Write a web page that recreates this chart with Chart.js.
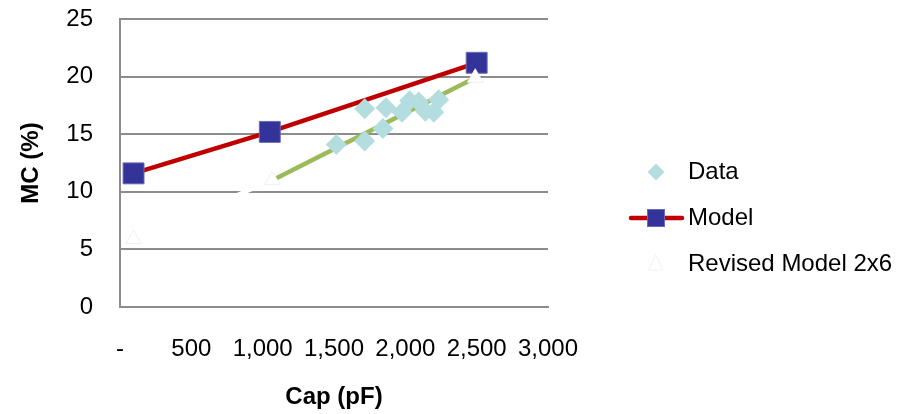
<!DOCTYPE html>
<html>
<head>
<meta charset="utf-8">
<script src="https://cdn.jsdelivr.net/npm/chart.js@4/dist/chart.umd.min.js"></script>
<style>
  html, body { margin: 0; padding: 0; background: #fff; }
  #wrap { width: 921px; height: 414px; position: relative; }
</style>
</head>
<body>
<div id="wrap"><canvas id="myChart"></canvas></div>
<script>
// values
var dataCap = [1516, 1715, 1715, 1864, 1843, 1977, 2030, 2093, 2140, 2199, 2234];
var dataMC  = [14.1, 14.4, 17.2, 17.3, 15.5, 16.9, 17.9, 17.8, 17.0, 16.9, 18.0];

var modelCap = [95, 1050, 2500];
var modelMC  = [11.6, 15.2, 21.2];

var revisedCap = [95, 1068, 2490];
var revisedMC  = [5.9, 11.0, 19.9];

var seriesNames = ['Data', 'Model', 'Revised Model 2x6'];
var xTicks = [0, 500, 1000, 1500, 2000, 2500, 3000];
var yTicks = [0, 5, 10, 15, 20, 25];

function pts(xs, ys) {
    return xs.map(function (x, i) { return { x: x, y: ys[i] }; });
}

var FONT = '"Liberation Sans", Arial, sans-serif';
Chart.defaults.font.family = FONT;
Chart.defaults.font.size = 24;
Chart.defaults.color = '#000';

var GRID = '#8c8c8c';
var DIAMOND = '#b4dde0';
var RED = '#c00000';
var NAVY = '#333399';
var GREEN = '#9bbb59';

// legend on the right, drawn by hand so it can show line + marker
var sideLegend = {
    id: 'sideLegend',
    afterDraw: function (chart) {
        var ctx = chart.ctx;
        var mx = 656, tx = 688;
        var rows = [172, 218, 264];
        ctx.save();
        // Data
        ctx.fillStyle = DIAMOND;
        ctx.beginPath();
        ctx.moveTo(mx, rows[0] - 8.5);
        ctx.lineTo(mx + 8.5, rows[0]);
        ctx.lineTo(mx, rows[0] + 8.5);
        ctx.lineTo(mx - 8.5, rows[0]);
        ctx.closePath();
        ctx.fill();
        // Model
        ctx.strokeStyle = RED;
        ctx.lineWidth = 4.5;
        ctx.lineCap = 'round';
        ctx.beginPath();
        ctx.moveTo(631, rows[1]);
        ctx.lineTo(682, rows[1]);
        ctx.stroke();
        ctx.fillStyle = NAVY;
        ctx.fillRect(mx - 8.5, rows[1] - 8.5, 17, 17);
        ctx.strokeStyle = '#6a6ab8';
        ctx.lineWidth = 1;
        ctx.strokeRect(mx - 8.5, rows[1] - 8.5, 17, 17);
        // Revised
        ctx.fillStyle = '#fff';
        ctx.strokeStyle = '#f2f2f2';
        ctx.beginPath();
        ctx.moveTo(mx, rows[2] - 9);
        ctx.lineTo(mx + 7, rows[2] + 6);
        ctx.lineTo(mx - 7, rows[2] + 6);
        ctx.closePath();
        ctx.fill();
        ctx.stroke();
        // labels
        ctx.fillStyle = '#000';
        ctx.font = '24px ' + FONT;
        ctx.textAlign = 'left';
        ctx.textBaseline = 'middle';
        seriesNames.forEach(function (name, i) {
            ctx.fillText(name, tx, rows[i]);
        });
        ctx.restore();
    }
};

var ctx = document.getElementById('myChart').getContext('2d');
var chart = new Chart(ctx, {
    type: 'scatter',
    data: {
        datasets: [{
            label: seriesNames[0],
            data: pts(dataCap, dataMC),
            showLine: false,
            pointStyle: 'rectRot',
            pointRadius: 10.5,
            backgroundColor: DIAMOND,
            borderColor: DIAMOND,
            borderWidth: 0,
            order: 0
        }, {
            label: seriesNames[2],
            data: pts(revisedCap, revisedMC),
            showLine: true,
            borderColor: '#fff',
            borderWidth: 4.5,
            segment: {
                borderColor: function (c) { return c.p0DataIndex === 0 ? '#fff' : GREEN; }
            },
            pointStyle: 'triangle',
            pointRadius: 9,
            backgroundColor: '#fff',
            pointBorderColor: '#f0f0f0',
            pointBorderWidth: 1,
            order: 1
        }, {
            label: seriesNames[1],
            data: pts(modelCap, modelMC),
            showLine: true,
            borderColor: RED,
            borderWidth: 4.5,
            pointStyle: 'rect',
            pointRadius: 14.8,
            pointBackgroundColor: NAVY,
            pointBorderColor: '#6a6ab8',
            pointBorderWidth: 1,
            order: 2
        }]
    },
    options: {
        responsive: true,
        maintainAspectRatio: false,
        animation: false,
        layout: { padding: { top: 19, right: 373, left: 0, bottom: 0 } },
        plugins: {
            legend: { display: false },
            tooltip: { enabled: false }
        },
        scales: {
            x: {
                type: 'linear',
                min: 0,
                max: 3000,
                afterFit: function (s) {
                    s.height = 107;
                    s.paddingLeft = 0;
                    s.paddingRight = 0;
                },
                afterBuildTicks: function (s) {
                    s.ticks = xTicks.map(function (v) { return { value: v }; });
                },
                ticks: {
                    autoSkip: false,
                    maxRotation: 0,
                    padding: 28,
                    callback: function (v) { return v === 0 ? '-' : v.toLocaleString('en-US'); }
                },
                grid: { display: false, drawTicks: false },
                border: { display: true, color: GRID, width: 2 },
                title: {
                    display: true,
                    text: 'Cap (pF)',
                    font: { weight: 'bold', size: 24 },
                    padding: { top: 0, bottom: 2 }
                }
            },
            y: {
                min: 0,
                max: 25,
                afterFit: function (s) {
                    s.width = 120;
                    s.paddingTop = 0;
                    s.paddingBottom = 0;
                },
                afterBuildTicks: function (s) {
                    s.ticks = yTicks.map(function (v) { return { value: v }; });
                },
                ticks: { padding: 27 },
                grid: { color: GRID, lineWidth: 2, drawTicks: false },
                border: { display: true, color: GRID, width: 2 },
                title: {
                    display: true,
                    text: 'MC (%)',
                    font: { weight: 'bold', size: 24 },
                    padding: { top: 17, bottom: 0 }
                }
            }
        }
    },
    plugins: [sideLegend]
});
</script>
</body>
</html>
